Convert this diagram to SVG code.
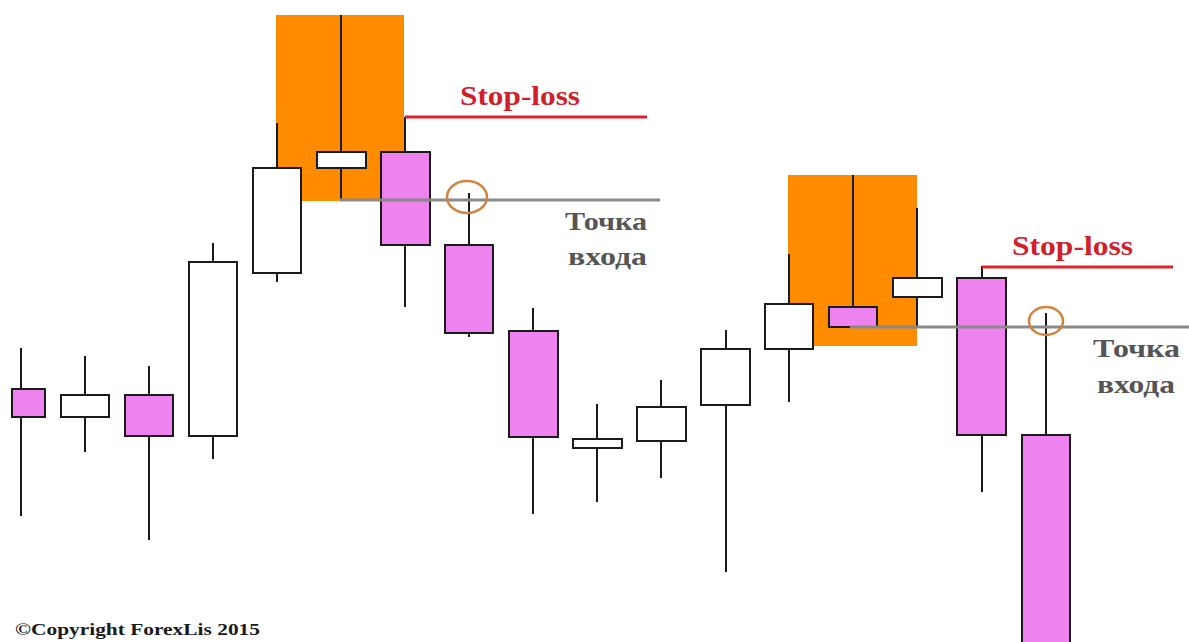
<svg xmlns="http://www.w3.org/2000/svg" width="1189" height="642" viewBox="0 0 1189 642">
<style>
.w{stroke:#1a1a1a;stroke-width:2;fill:none}
.b{stroke:#1a1a1a;stroke-width:2}
.up{fill:#ffffff}
.dn{fill:#ee82ee}
.zone{fill:#ff8c00}
.sl{stroke:#e0202a;stroke-width:3;fill:none}
.entry{stroke:#8a8a8a;stroke-width:3;fill:none}
.ring{stroke:#d08440;stroke-width:2.5;fill:none}
.tsl{font-family:"Liberation Serif",serif;font-weight:bold;font-size:27px;fill:#d0202a}
.tin{font-family:"Liberation Serif",serif;font-weight:bold;font-size:26px;fill:#555555}
.copy{font-family:"Liberation Serif",serif;font-weight:bold;font-size:17px;fill:#1a1a1a}
</style>
<rect width="1189" height="642" fill="#ffffff"/>
<g id="zones">
<rect class="zone" x="276" y="15" width="128" height="186"/>
<rect class="zone" x="788" y="175" width="129" height="171"/>
</g>
<g id="candle1"><line class="w" x1="21" y1="348" x2="21" y2="516"/><rect class="b dn" x="12" y="389" width="33" height="28"/></g>
<g id="candle2"><line class="w" x1="85" y1="356" x2="85" y2="452"/><rect class="b up" x="61" y="395" width="48" height="22"/></g>
<g id="candle3"><line class="w" x1="149" y1="366" x2="149" y2="540"/><rect class="b dn" x="125" y="395" width="48" height="41"/></g>
<g id="candle4"><line class="w" x1="213" y1="243" x2="213" y2="459"/><rect class="b up" x="189" y="262" width="48" height="174"/></g>
<g id="candle5"><line class="w" x1="277" y1="123" x2="277" y2="282"/><rect class="b up" x="253" y="168" width="48" height="105"/></g>
<g id="candle6"><line class="w" x1="341" y1="15" x2="341" y2="201"/><rect class="b up" x="317" y="152" width="49" height="16"/></g>
<g id="candle7"><line class="w" x1="405" y1="117" x2="405" y2="307"/><rect class="b dn" x="381" y="152" width="49" height="93"/></g>
<g id="candle8"><line class="w" x1="469" y1="193" x2="469" y2="337"/><rect class="b dn" x="445" y="245" width="48" height="88"/></g>
<g id="candle9"><line class="w" x1="533" y1="308" x2="533" y2="514"/><rect class="b dn" x="509" y="331" width="49" height="106"/></g>
<g id="candle10"><line class="w" x1="597" y1="404" x2="597" y2="502"/><rect class="b up" x="573" y="439" width="49" height="9"/></g>
<g id="candle11"><line class="w" x1="661" y1="380" x2="661" y2="478"/><rect class="b up" x="637" y="407" width="49" height="34"/></g>
<g id="candle12"><line class="w" x1="726" y1="330" x2="726" y2="572"/><rect class="b up" x="701" y="349" width="49" height="56"/></g>
<g id="candle13"><line class="w" x1="789" y1="254" x2="789" y2="402"/><rect class="b up" x="765" y="304" width="48" height="45"/></g>
<g id="candle14"><line class="w" x1="853" y1="175" x2="853" y2="327"/><rect class="b dn" x="829" y="307" width="48" height="20"/></g>
<g id="candle15"><line class="w" x1="917" y1="208" x2="917" y2="327"/><rect class="b up" x="893" y="278" width="49" height="19"/></g>
<g id="candle16"><line class="w" x1="982" y1="266" x2="982" y2="492"/><rect class="b dn" x="957" y="278" width="49" height="157"/></g>
<g id="candle17"><line class="w" x1="1046" y1="313" x2="1046" y2="435"/><rect class="b dn" x="1022" y="435" width="48" height="212"/></g>
<g id="levels">
<line class="sl" x1="405" y1="117" x2="647" y2="117"/>
<line class="entry" x1="340" y1="200" x2="660" y2="200"/>
<line class="sl" x1="982" y1="267" x2="1173" y2="267"/>
<line class="entry" x1="850" y1="327" x2="1189" y2="327"/>
</g>
<g id="markers">
<ellipse class="ring" cx="467" cy="197" rx="20" ry="16"/>
<ellipse class="ring" cx="1046" cy="321" rx="17" ry="14"/>
</g>
<g id="labels">
<text class="tsl" x="460" y="105" textLength="120" lengthAdjust="spacingAndGlyphs">Stop-loss</text>
<text class="tin" x="565" y="230" textLength="82" lengthAdjust="spacingAndGlyphs">Точка</text>
<text class="tin" x="568" y="265" textLength="79" lengthAdjust="spacingAndGlyphs">входа</text>
<text class="tsl" x="1012" y="255" textLength="121" lengthAdjust="spacingAndGlyphs">Stop-loss</text>
<text class="tin" x="1093" y="357" textLength="87" lengthAdjust="spacingAndGlyphs">Точка</text>
<text class="tin" x="1097" y="393" textLength="78" lengthAdjust="spacingAndGlyphs">входа</text>
<text class="copy" x="15" y="635" textLength="245" lengthAdjust="spacingAndGlyphs">©Copyright ForexLis 2015</text>
</g>
</svg>
